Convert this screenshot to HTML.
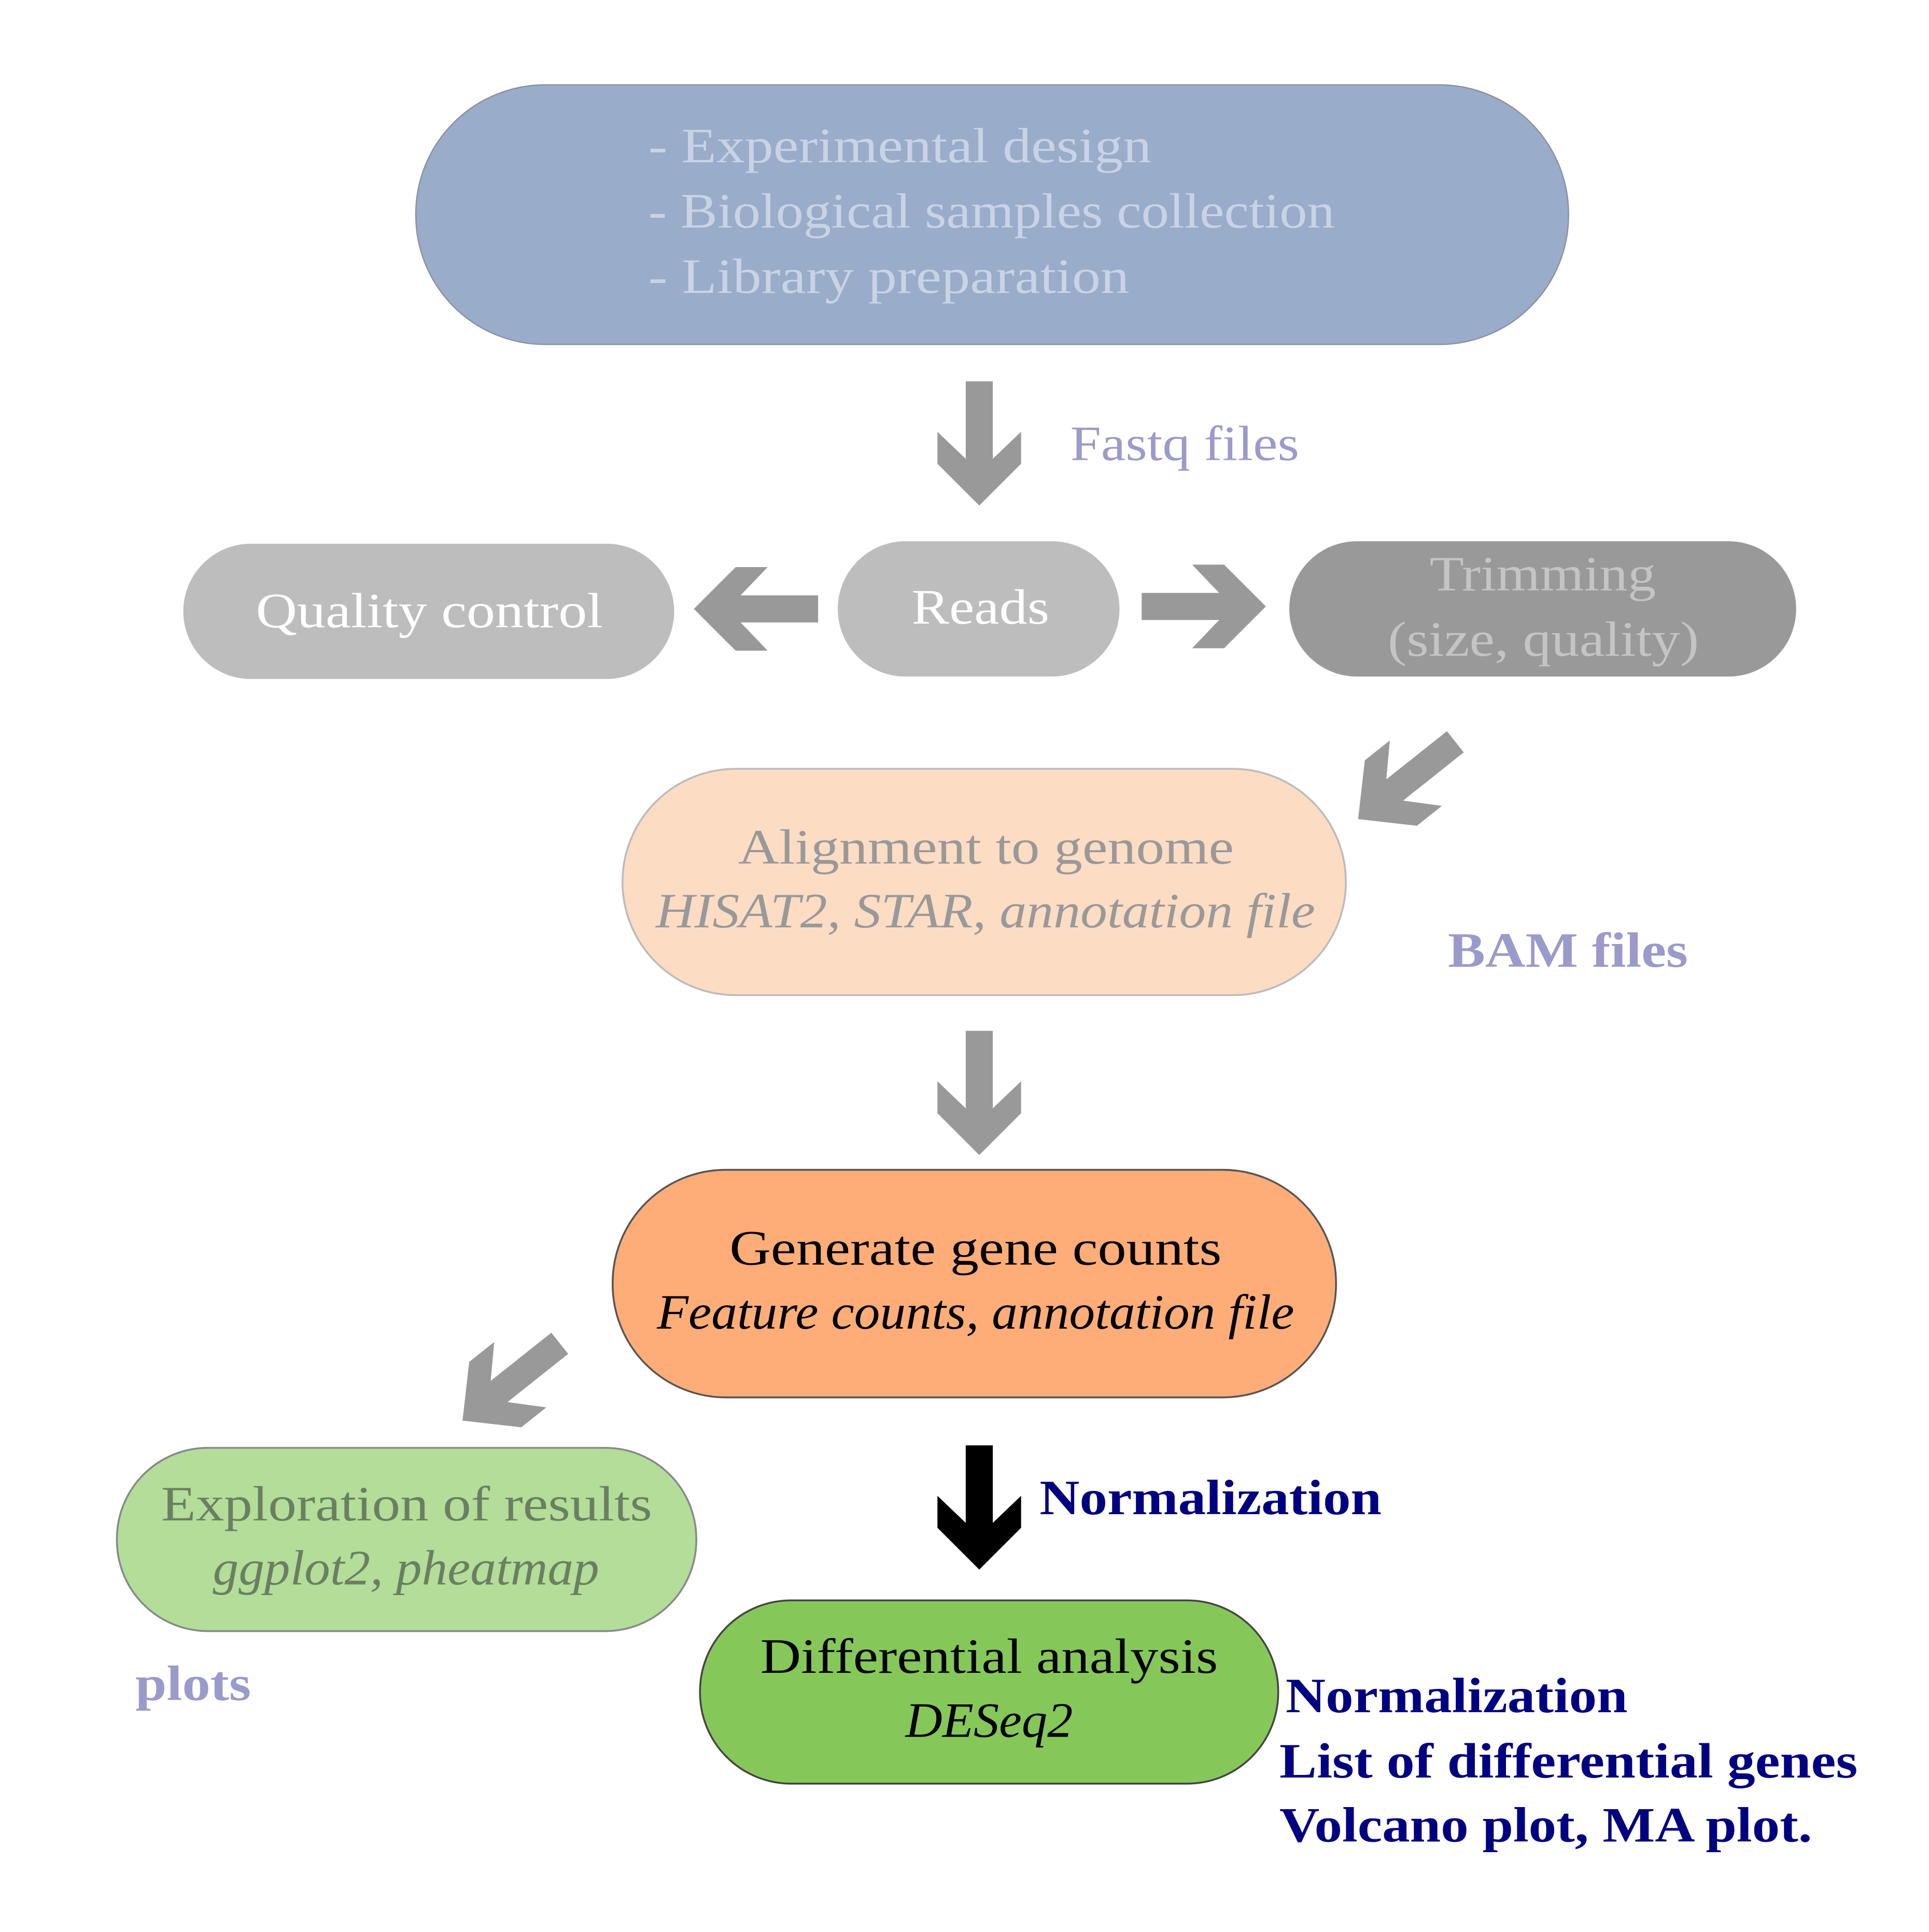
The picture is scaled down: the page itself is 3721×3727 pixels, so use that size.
<!DOCTYPE html>
<html><head><meta charset="utf-8"><style>
html,body{margin:0;padding:0;background:#fff;}
svg{display:block;}
text{font-family:"Liberation Serif",serif;font-size:40px;}
</style></head><body>
<svg width="3721" height="3727" viewBox="0 0 1568 1570.6" preserveAspectRatio="none" xmlns="http://www.w3.org/2000/svg">
<defs>
<path id="arr" d="M-11,0 L11,0 L11,63 L34,41 L34,67 L0,101 L-34,67 L-34,41 L-11,63 Z"/>
</defs>
<rect width="1568" height="1570.6" fill="#fff"/>

<!-- top node -->
<rect x="338" y="69" width="937" height="211" rx="105" fill="#99acca" stroke="#8a8f9e" stroke-width="1"/>
<g fill="#c9d3e5">
<text x="527" y="132" textLength="409" lengthAdjust="spacingAndGlyphs">- Experimental design</text>
<text x="527" y="185" textLength="558" lengthAdjust="spacingAndGlyphs">- Biological samples collection</text>
<text x="527" y="238" textLength="391" lengthAdjust="spacingAndGlyphs">- Library preparation</text>
</g>

<use href="#arr" transform="translate(796,310)" fill="#999"/>
<text x="870" y="374" fill="#9a9acb" textLength="186" lengthAdjust="spacingAndGlyphs">Fastq files</text>

<!-- row 2 -->
<rect x="149" y="442" width="399" height="110" rx="55" fill="#bdbdbd"/>
<text x="208" y="510" fill="#fff" textLength="282" lengthAdjust="spacingAndGlyphs">Quality control</text>
<rect x="681" y="440" width="229" height="110" rx="55" fill="#bdbdbd"/>
<text x="741" y="507" fill="#fff" textLength="112" lengthAdjust="spacingAndGlyphs">Reads</text>
<rect x="1048" y="440" width="412" height="110" rx="55" fill="#999"/>
<text x="1162" y="480" fill="#c4c4c4" textLength="184" lengthAdjust="spacingAndGlyphs">Trimming</text>
<text x="1128" y="533" fill="#c4c4c4" textLength="253" lengthAdjust="spacingAndGlyphs">(size, quality)</text>

<use href="#arr" transform="translate(665,495) rotate(90)" fill="#999"/>
<use href="#arr" transform="translate(928,493) rotate(-90)" fill="#999"/>
<use href="#arr" transform="translate(1183,603) rotate(51.5)" fill="#999"/>

<!-- alignment -->
<rect x="506" y="625" width="588" height="184" rx="92" fill="#fddcc4" stroke="#bbb" stroke-width="1.5"/>
<text x="600" y="702" fill="#999" textLength="403" lengthAdjust="spacingAndGlyphs">Alignment to genome</text>
<text x="533" y="754" fill="#999" font-style="italic" textLength="536" lengthAdjust="spacingAndGlyphs">HISAT2, STAR, annotation file</text>
<text x="1177" y="786" fill="#9a9acb" font-weight="bold" textLength="195" lengthAdjust="spacingAndGlyphs">BAM files</text>

<use href="#arr" transform="translate(796,838)" fill="#999"/>

<!-- generate -->
<rect x="498" y="951" width="588" height="185" rx="92" fill="#fead78" stroke="#555" stroke-width="1.5"/>
<text x="593" y="1028" fill="#000" textLength="400" lengthAdjust="spacingAndGlyphs">Generate gene counts</text>
<text x="534" y="1080" fill="#000" font-style="italic" textLength="518" lengthAdjust="spacingAndGlyphs">Feature counts, annotation file</text>

<use href="#arr" transform="translate(455,1092) rotate(51.5)" fill="#999"/>
<use href="#arr" transform="translate(796,1175)" fill="#000"/>
<text x="845" y="1231" fill="#000080" font-weight="bold" textLength="278" lengthAdjust="spacingAndGlyphs">Normalization</text>

<!-- exploration -->
<rect x="95" y="1177" width="471" height="149" rx="74" fill="#b3dd98" stroke="#888" stroke-width="1.5"/>
<text x="131" y="1236" fill="#6a7f62" textLength="399" lengthAdjust="spacingAndGlyphs">Exploration of results</text>
<text x="173" y="1288" fill="#6a7f62" font-style="italic" textLength="314" lengthAdjust="spacingAndGlyphs">ggplot2, pheatmap</text>
<text x="110" y="1382" fill="#9a9acb" font-weight="bold" textLength="94" lengthAdjust="spacingAndGlyphs">plots</text>

<!-- differential -->
<rect x="569" y="1301" width="470" height="149" rx="74" fill="#86c75a" stroke="#444" stroke-width="1.5"/>
<text x="618" y="1360" fill="#000" textLength="372" lengthAdjust="spacingAndGlyphs">Differential analysis</text>
<text x="736" y="1412" fill="#000" font-style="italic" textLength="136" lengthAdjust="spacingAndGlyphs">DESeq2</text>

<g fill="#000080" font-weight="bold">
<text x="1045" y="1392" textLength="278" lengthAdjust="spacingAndGlyphs">Normalization</text>
<text x="1040" y="1445" textLength="470" lengthAdjust="spacingAndGlyphs">List of differential genes</text>
<text x="1040" y="1497" textLength="433" lengthAdjust="spacingAndGlyphs">Volcano plot, MA plot.</text>
</g>
</svg>
</body></html>
